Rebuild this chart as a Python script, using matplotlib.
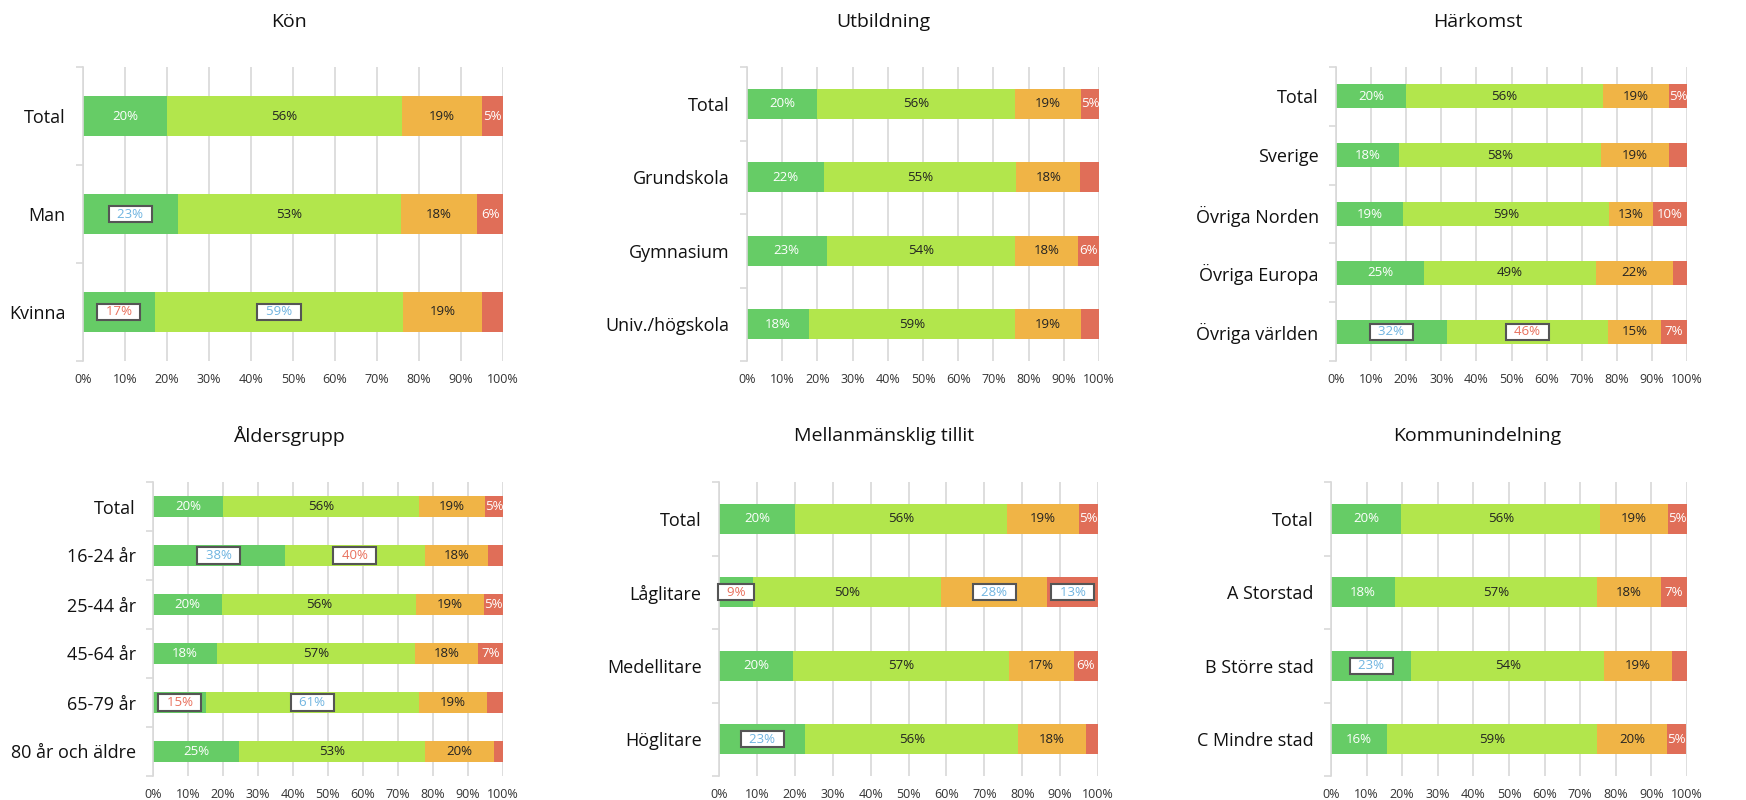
import matplotlib.pyplot as plt
from matplotlib.ticker import FixedLocator, PercentFormatter

plt.rcParams["font.family"] = ["Open Sans", "DejaVu Sans"]

COLORS = ["#66cc66", "#b2e64c", "#f0b446", "#e06e58"]
TEXT_COLORS = ["white", "#222222", "#222222", "white"]
BLUE = "#6fb4e0"
RED = "#e8705c"

# --- data (percent per segment, top row first) ---
kon_cats = ["Total", "Man", "Kvinna"]
kon_green = [20, 22.6, 17.1]
kon_lgreen = [56, 53.0, 59.2]
kon_orange = [19, 18.3, 18.6]
kon_red = [5, 6.1, 5.1]
kon_hidden = [(2, 3)]
kon_boxed = [(1, 0, BLUE), (2, 0, RED), (2, 1, BLUE)]

utb_cats = ["Total", "Grundskola", "Gymnasium", "Univ./högskola"]
utb_green = [20, 21.9, 22.6, 17.6]
utb_lgreen = [56, 54.6, 53.6, 58.6]
utb_orange = [19, 18.2, 17.8, 18.6]
utb_red = [5, 5.3, 6.0, 5.2]
utb_hidden = [(1, 3), (3, 3)]
utb_boxed = []

hark_cats = ["Total", "Sverige", "Övriga Norden", "Övriga Europa", "Övriga världen"]
hark_green = [20, 18.0, 19.2, 25.1, 31.6]
hark_lgreen = [56, 57.6, 58.6, 49.0, 45.8]
hark_orange = [19, 19.2, 12.6, 21.9, 15.2]
hark_red = [5, 5.2, 9.6, 4.0, 7.4]
hark_hidden = [(1, 3), (3, 3)]
hark_boxed = [(4, 0, BLUE), (4, 1, RED)]

alder_cats = ["Total", "16-24 år", "25-44 år", "45-64 år", "65-79 år", "80 år och äldre"]
alder_green = [20, 37.6, 19.6, 18.2, 15.2, 24.6]
alder_lgreen = [56, 40.0, 55.6, 56.8, 60.7, 53.1]
alder_orange = [19, 18.2, 19.4, 17.9, 19.4, 19.6]
alder_red = [5, 4.2, 5.4, 7.1, 4.7, 2.7]
alder_hidden = [(1, 3), (4, 3), (5, 3)]
alder_boxed = [(1, 0, BLUE), (1, 1, RED), (4, 0, RED), (4, 1, BLUE)]

tillit_cats = ["Total", "Låglitare", "Medellitare", "Höglitare"]
tillit_green = [20, 8.9, 19.6, 22.8]
tillit_lgreen = [56, 49.8, 56.8, 56.2]
tillit_orange = [19, 27.9, 17.2, 17.8]
tillit_red = [5, 13.4, 6.4, 3.2]
tillit_hidden = [(3, 3)]
tillit_boxed = [(1, 0, RED), (1, 2, BLUE), (1, 3, BLUE), (3, 0, BLUE)]

kommun_cats = ["Total", "A Storstad", "B Större stad", "C Mindre stad"]
kommun_green = [19.8, 18.0, 22.6, 15.8]
kommun_lgreen = [55.8, 56.6, 54.1, 58.8]
kommun_orange = [19.0, 18.2, 19.0, 19.8]
kommun_red = [5.4, 7.2, 4.3, 5.4]
kommun_hidden = [(2, 3)]
kommun_boxed = [(2, 0, BLUE)]

panels = [
    ("Kön", kon_cats, [kon_green, kon_lgreen, kon_orange, kon_red], kon_hidden, kon_boxed),
    ("Utbildning", utb_cats, [utb_green, utb_lgreen, utb_orange, utb_red], utb_hidden, utb_boxed),
    ("Härkomst", hark_cats, [hark_green, hark_lgreen, hark_orange, hark_red], hark_hidden, hark_boxed),
    ("Åldersgrupp", alder_cats, [alder_green, alder_lgreen, alder_orange, alder_red], alder_hidden, alder_boxed),
    ("Mellanmänsklig tillit", tillit_cats, [tillit_green, tillit_lgreen, tillit_orange, tillit_red], tillit_hidden, tillit_boxed),
    ("Kommunindelning", kommun_cats, [kommun_green, kommun_lgreen, kommun_orange, kommun_red], kommun_hidden, kommun_boxed),
]

# axes boxes in pixels: left, right, top, bottom
W, H = 1746, 800
boxes = [
    (83, 503, 67, 361), (747, 1099, 67, 361), (1336, 1687, 67, 361),
    (153, 503, 482, 776), (719, 1098, 482, 776), (1331, 1687, 482, 776),
]
title_pos = [(289, 22), (883, 22), (1478, 22), (289, 436), (884, 436), (1477, 436)]

fig = plt.figure(figsize=(W / 100, H / 100), dpi=100)

for (title, cats, series, hidden, boxed), (l, r, t, b), (tx, ty) in zip(panels, boxes, title_pos):
    ax = fig.add_axes([l / W, 1 - b / H, (r - l) / W, (b - t) / H])
    n = len(cats)
    ypos = list(range(n))
    left = [0] * n
    box_map = {(i, j): c for i, j, c in boxed}
    for j, vals in enumerate(series):
        ax.barh(ypos, vals, left=left, height=0.41, color=COLORS[j], zorder=2)
        for i, v in enumerate(vals):
            if (i, j) in hidden:
                continue
            cx = left[i] + v / 2
            txt = f"{v:.0f}%"
            if (i, j) in box_map:
                ax.text(cx, i, f"  {txt}  ", ha="center", va="center", fontsize=9.5,
                        color=box_map[(i, j)], zorder=4,
                        bbox=dict(boxstyle="square,pad=0.12", fc="white",
                                  ec="#555555", lw=1.5))
            else:
                ax.text(cx, i, txt, ha="center", va="center", fontsize=9.5,
                        color=TEXT_COLORS[j], zorder=3)
        left = [a + v for a, v in zip(left, vals)]

    ax.set_xlim(0, 100)
    ax.set_ylim(n - 0.5, -0.5)
    ax.set_xticks(range(0, 101, 10))
    ax.xaxis.set_major_formatter(PercentFormatter(decimals=0))
    ax.set_yticks(ypos)
    ax.set_yticklabels(cats)
    ax.yaxis.set_minor_locator(FixedLocator([k - 0.5 for k in range(n + 1)]))
    ax.tick_params(axis="y", which="major", length=0, pad=12.5, labelsize=13, labelcolor="#111111")
    ax.tick_params(axis="y", which="minor", length=5, width=1.2, color="#d9d9d9")
    ax.tick_params(axis="x", length=0, pad=9, labelsize=9, labelcolor="#333333")
    ax.grid(axis="x", color="#dedede", lw=1.4, zorder=0)
    for side in ["top", "right", "bottom"]:
        ax.spines[side].set_visible(False)
    ax.spines["left"].set_color("#d9d9d9")
    ax.spines["left"].set_linewidth(1.2)

    fig.text(tx / W, 1 - ty / H, title, ha="center", va="center", fontsize=14, color="#111111")

fig.savefig("out.png", dpi=100, facecolor="white")
